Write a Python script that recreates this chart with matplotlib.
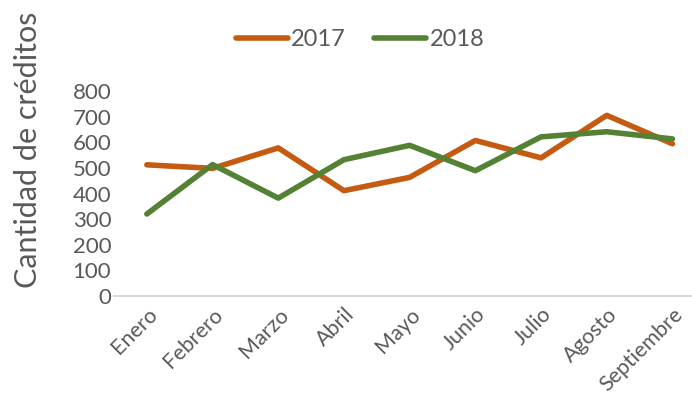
import matplotlib
matplotlib.use("Agg")
import matplotlib.pyplot as plt

months = ["Enero", "Febrero", "Marzo", "Abril", "Mayo", "Junio", "Julio", "Agosto", "Septiembre"]
v2017 = [512, 498, 578, 411, 463, 607, 539, 705, 594]
v2018 = [320, 513, 382, 532, 588, 489, 621, 641, 613]
yticks = [0, 100, 200, 300, 400, 500, 600, 700, 800]

plt.rcParams['font.family'] = ['Lato', 'DejaVu Sans']
gray = '#595959'

fig = plt.figure(figsize=(6.92, 4.18), dpi=100)
W, H = 692, 418
left, right, bottom, top = 114, 692, 296, 91
ax = fig.add_axes([left / W, 1 - bottom / H, (right - left) / W, (bottom - top) / H])

x = list(range(len(months)))
ax.plot(x, v2017, color='#C55A11', lw=4, label='2017', solid_capstyle='round', solid_joinstyle='round', clip_on=False)
ax.plot(x, v2018, color='#548235', lw=4, label='2018', solid_capstyle='round', solid_joinstyle='round', clip_on=False)

ax.set_xlim(-0.5, -0.5 + (right - left) / 65.7)
ax.set_ylim(0, 800)
ax.set_yticks(yticks)
ax.set_yticklabels([str(v) for v in yticks], fontsize=16, color=gray)
ax.set_xticks(x)
ax.set_xticklabels(months, fontsize=15.5, color=gray, rotation=45, ha='right', rotation_mode='anchor')
ax.tick_params(axis='both', length=0)
ax.tick_params(axis='y', pad=2)
ax.tick_params(axis='x', pad=6)
for s in ['top', 'right', 'left']:
    ax.spines[s].set_visible(False)
ax.spines['bottom'].set_color('#D9D9D9')
ax.spines['bottom'].set_linewidth(1.5)

fig.text(28 / W, 1 - 150 / H, 'Cantidad de créditos', rotation=90, fontsize=22, color=gray, ha='center', va='center')

leg = fig.legend(loc='center', bbox_to_anchor=(360 / W, 1 - 40 / H), ncol=2, frameon=False,
                 fontsize=17, handlelength=2.2, handletextpad=0.15, columnspacing=1.2)
for t in leg.get_texts():
    t.set_color(gray)

fig.savefig('out.png', dpi=100)
